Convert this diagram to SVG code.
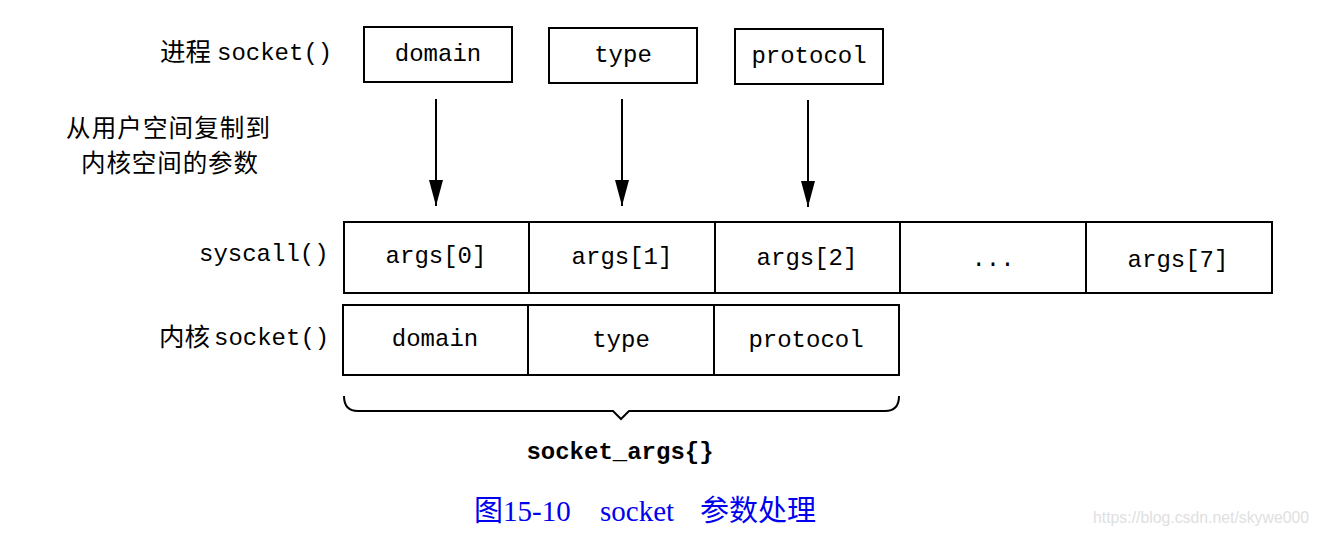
<svg xmlns="http://www.w3.org/2000/svg" width="1319" height="535" viewBox="0 0 1319 535">
<style>
.box{fill:#fff;stroke:#000;stroke-width:2}
.mono{font-family:"Liberation Mono","DejaVu Sans Mono",monospace;font-size:24px;fill:#000}
.cjk{font-family:"Noto Sans CJK SC",sans-serif;font-size:25.5px;fill:#000}
.cjk2{font-family:"Noto Sans CJK SC",sans-serif;font-size:24.5px;fill:#000}
.c{text-anchor:middle;dominant-baseline:central}
.conn{stroke:#000;stroke-width:2;fill:none}
</style>
<defs>
<marker id="arr" viewBox="0 0 26 14" refX="26" refY="7" markerWidth="26" markerHeight="14" markerUnits="userSpaceOnUse" orient="auto">
<path d="M0,0 L26,7 L0,14 Z" fill="#000"/>
</marker>
</defs>
<rect width="1319" height="535" fill="#fff"/>

<g id="label-process">
<text x="160" y="61" class="cjk">进程</text>
<text x="217" y="60" class="mono">socket()</text>
</g>
<g id="label-copy">
<text x="66" y="137" class="cjk2" textLength="204" lengthAdjust="spacing">从用户空间复制到</text>
<text x="81" y="172" class="cjk2" textLength="177" lengthAdjust="spacing">内核空间的参数</text>
</g>
<g id="label-syscall"><text x="199" y="261" class="mono">syscall()</text></g>
<g id="label-kernel">
<text x="159" y="346" class="cjk">内核</text>
<text x="214" y="345" class="mono">socket()</text>
</g>

<g id="node-domain"><rect x="364" y="27" width="148" height="55" class="box"/><text x="438" y="54" class="mono c">domain</text></g>
<g id="node-type"><rect x="549" y="28" width="148" height="55" class="box"/><text x="623" y="55" class="mono c">type</text></g>
<g id="node-protocol"><rect x="735" y="29" width="148" height="55" class="box"/><text x="809" y="56" class="mono c">protocol</text></g>

<g id="node-syscall-args">
<rect x="344" y="222" width="928" height="71" class="box"/>
<line x1="529" y1="222" x2="529" y2="293" class="conn"/>
<line x1="715" y1="222" x2="715" y2="293" class="conn"/>
<line x1="900" y1="222" x2="900" y2="293" class="conn"/>
<line x1="1086" y1="222" x2="1086" y2="293" class="conn"/>
<text x="436" y="256" class="mono c">args[0]</text>
<text x="622" y="257" class="mono c">args[1]</text>
<text x="807" y="258" class="mono c">args[2]</text>
<text x="993" y="259" class="mono c">...</text>
<text x="1178" y="260" class="mono c">args[7]</text>
</g>

<g id="node-kernel-args">
<rect x="343" y="305" width="556" height="70" class="box"/>
<line x1="528" y1="305" x2="528" y2="375" class="conn"/>
<line x1="714" y1="305" x2="714" y2="375" class="conn"/>
<text x="435" y="339" class="mono c">domain</text>
<text x="621" y="340" class="mono c">type</text>
<text x="806" y="340" class="mono c">protocol</text>
</g>

<g id="connectors">
<line x1="436" y1="99" x2="436" y2="206" class="conn" marker-end="url(#arr)"/>
<line x1="622" y1="99" x2="622" y2="206" class="conn" marker-end="url(#arr)"/>
<line x1="808" y1="100" x2="808" y2="207" class="conn" marker-end="url(#arr)"/>
</g>

<g id="brace">
<path d="M344,396 Q344,411 358,411 L613,411 L621,419 L629,411 L885,411 Q899,411 899,396" class="conn"/>
<text x="620" y="452" class="mono c" font-weight="bold">socket_args{}</text>
</g>

<g id="caption">
<text y="521" font-family="Liberation Serif,Noto Sans CJK SC,serif" font-size="29" fill="#0000ee"><tspan x="474">图15-10</tspan><tspan x="600">socket</tspan><tspan x="700">参数处理</tspan></text>
</g>
<text x="1093" y="523" font-family="Liberation Sans,sans-serif" font-size="15.8" fill="#e0e0e0">https://blog.csdn.net/skywe000</text>
</svg>
